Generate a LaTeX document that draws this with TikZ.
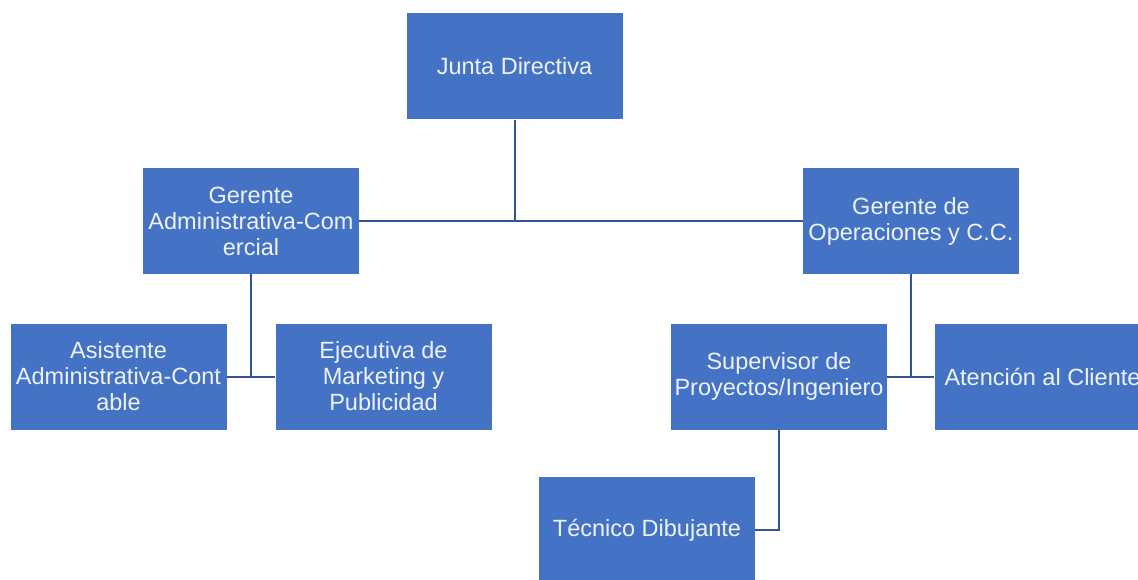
\documentclass[tikz,border=0pt]{standalone}
\usepackage{fontspec}
\setmainfont{Liberation Sans}
\definecolor{boxblue}{HTML}{4472C4}
\definecolor{lineblue}{HTML}{2F5597}
\definecolor{boxtext}{HTML}{EEF2F9}
\begin{document}
\begin{tikzpicture}[x=1pt,y=-1pt,
  orgbox/.style={rectangle, fill=boxblue, text=boxtext, minimum width=216pt, minimum height=106pt,
    inner sep=0pt, align=center, font=\fontsize{23.5}{26}\selectfont},
  link/.style={draw=lineblue, line width=2pt}]
\clip (0,0) rectangle (1138,580);
\fill[white] (0,0) rectangle (1138,580);
\node[orgbox] (jd) at (514.5,66.5) {Junta Directiva};
\node[orgbox] (ga) at (251,221) {Gerente\\Administrativa-Com\\ercial};
\node[orgbox] (go) at (911,221) {Gerente de\\Operaciones y C.C.};
\node[orgbox] (as) at (118.5,376.5) {Asistente\\Administrativa-Cont\\able};
\node[orgbox] (ej) at (383.5,376.5) {Ejecutiva de\\Marketing y\\Publicidad};
\node[orgbox] (sp) at (779,376.5) {Supervisor de\\Proyectos/Ingeniero};
\node[orgbox] (at) at (1042.5,376.5) {Atención al Cliente};
\node[orgbox] (tec) at (647,530) {Técnico Dibujante};
\draw[link] (jd.south) -- (jd.south |- ga.east);
\draw[link] (ga.east) -- (go.west);
\draw[link] (ga.south) -- (ga.south |- as.east);
\draw[link] (as.east) -- (ej.west);
\draw[link] (go.south) -- (go.south |- sp.east);
\draw[link] (sp.east) -- (at.west);
\draw[link] (sp.south) -- (sp.south |- tec.east) -- (tec.east);
\end{tikzpicture}
\end{document}
